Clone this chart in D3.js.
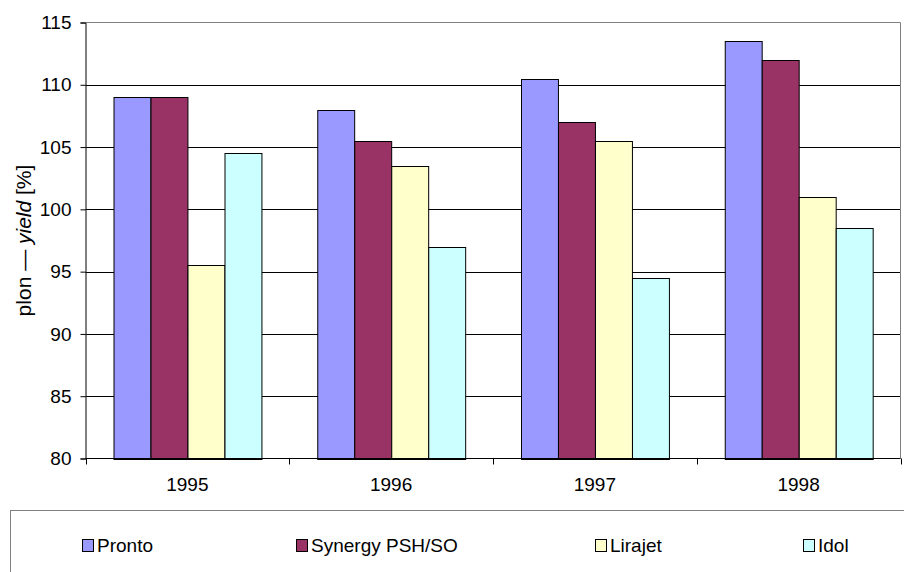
<!DOCTYPE html>
<html>
<head>
<meta charset="utf-8">
<script src="https://cdn.jsdelivr.net/npm/d3@7"></script>
<style>
  html, body { margin: 0; padding: 0; background: #fff; }
  svg { display: block; font-family: "Liberation Sans", Arial, sans-serif; }
</style>
</head>
<body>
<svg id="chart" width="904" height="572"></svg>
<script>
// Yield of varieties relative to the standard, per year
const years = ["1995", "1996", "1997", "1998"];
const seriesNames = ["Pronto", "Synergy PSH/SO", "Lirajet", "Idol"];
const pronto  = [109, 108, 110.5, 113.5];
const synergy = [109, 105.5, 107, 112];
const lirajet = [95.5, 103.5, 105.5, 101];
const idol    = [104.5, 97, 94.5, 98.5];
const yTicks  = [80, 85, 90, 95, 100, 105, 110, 115];
const colors  = ["#9999FF", "#993366", "#FFFFCC", "#CCFFFF"];

const seriesValues = [pronto, synergy, lirajet, idol];
const FS = 19;

const svg = d3.select("#chart");
const plot = { left: 85.5, right: 900.5, top: 22.5, bottom: 458.5 };

const y = d3.scaleLinear().domain([80, 115]).range([plot.bottom, plot.top]);
const x0 = d3.scaleBand().domain(years).range([plot.left, plot.right]).padding(0);
const bw = x0.bandwidth();
const x1 = d3.scaleBand().domain(seriesNames).range([bw * 0.1375, bw * 0.8625]).padding(0);

// Horizontal gridlines
svg.append("g")
  .selectAll("line")
  .data(yTicks.filter(t => t > 80 && t < 115))
  .join("line")
  .attr("x1", plot.left).attr("x2", plot.right)
  .attr("y1", d => Math.round(y(d)) + 0.5).attr("y2", d => Math.round(y(d)) + 0.5)
  .attr("stroke", "#000").attr("stroke-width", 1);

// Plot area frame (top and right in grey)
svg.append("path")
  .attr("d", `M${plot.left},${plot.top}H${plot.right}V${plot.bottom}`)
  .attr("fill", "none").attr("stroke", "#808080").attr("stroke-width", 1);

// Bars
const groups = svg.append("g")
  .selectAll("g")
  .data(years)
  .join("g")
  .attr("transform", d => `translate(${x0(d)},0)`);

groups.selectAll("rect")
  .data((d, i) => seriesNames.map((s, k) => ({ s, k, v: seriesValues[k][i] })))
  .join("rect")
  .attr("x", d => Math.round(x1(d.s)) + 0.5)
  .attr("width", x1.bandwidth())
  .attr("y", d => Math.round(y(d.v)) + 0.5)
  .attr("height", d => Math.round(y(80)) - Math.round(y(d.v)))
  .attr("fill", d => colors[d.k])
  .attr("stroke", "#000").attr("stroke-width", 1);

// Y axis
const yAxis = svg.append("g")
  .attr("transform", `translate(${plot.left},0)`)
  .call(d3.axisLeft(y).tickValues(yTicks).tickSize(5).tickPadding(9).tickFormat(d3.format("d")));
yAxis.select(".domain").attr("stroke", "#000");
yAxis.selectAll(".tick line").attr("stroke", "#000");
yAxis.selectAll("text")
  .attr("font-size", FS).attr("fill", "#000")
  .attr("font-family", "Liberation Sans, Arial, sans-serif");

// X axis with ticks at category boundaries
const xg = svg.append("g");
xg.append("line")
  .attr("x1", plot.left).attr("x2", plot.right)
  .attr("y1", plot.bottom).attr("y2", plot.bottom)
  .attr("stroke", "#000");
xg.selectAll("line.tk")
  .data(years.map(d => x0(d)).concat([plot.right]))
  .join("line")
  .attr("class", "tk")
  .attr("x1", d => Math.round(d) + 0.5).attr("x2", d => Math.round(d) + 0.5)
  .attr("y1", plot.bottom).attr("y2", plot.bottom + 6)
  .attr("stroke", "#000");
xg.selectAll("text")
  .data(years)
  .join("text")
  .attr("x", d => x0(d) + bw / 2)
  .attr("y", 491)
  .attr("text-anchor", "middle")
  .attr("font-size", FS)
  .text(d => d);

// Y axis title
const title = svg.append("text")
  .attr("transform", `translate(31,${(plot.top + plot.bottom) / 2}) rotate(-90)`)
  .attr("text-anchor", "middle")
  .attr("font-size", 21);
title.append("tspan").text("plon — ");
title.append("tspan").attr("font-style", "italic").text("yield");
title.append("tspan").text(" [%]");

// Legend
svg.append("rect")
  .attr("x", 10.5).attr("y", 510.5)
  .attr("width", 920).attr("height", 120)
  .attr("fill", "none").attr("stroke", "#808080");

const legendX = [82, 296, 595, 803];
const items = svg.append("g")
  .selectAll("g")
  .data(seriesNames)
  .join("g")
  .attr("transform", (d, i) => `translate(${legendX[i]},0)`);
items.append("rect")
  .attr("x", 0.5).attr("y", 539.5)
  .attr("width", 11).attr("height", 12)
  .attr("fill", (d, i) => colors[i])
  .attr("stroke", "#000");
items.append("text")
  .attr("x", 15).attr("y", 552)
  .attr("font-size", FS)
  .text(d => d);
</script>
</body>
</html>
